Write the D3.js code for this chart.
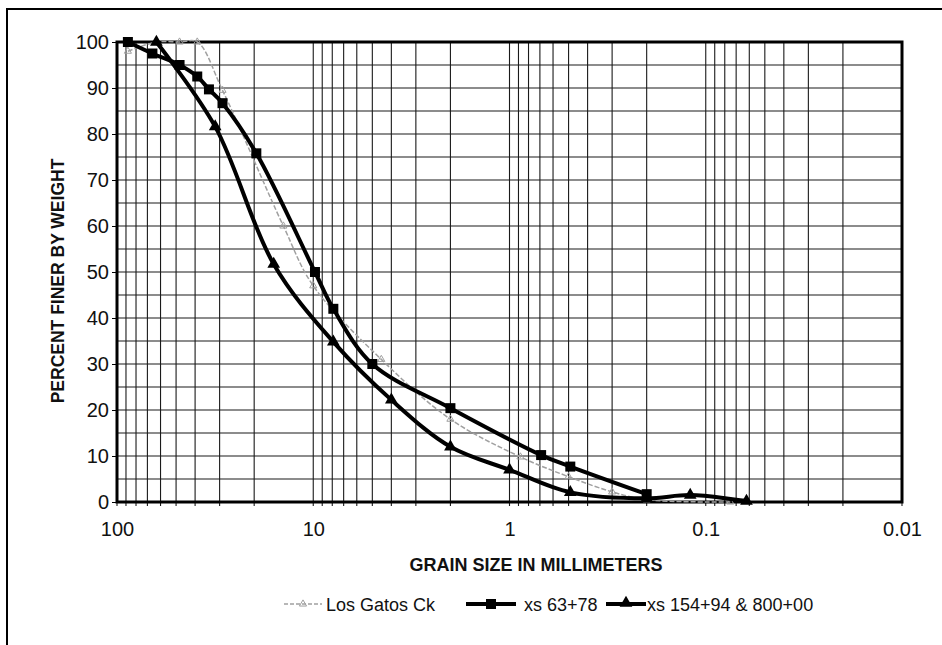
<!DOCTYPE html>
<html>
<head>
<meta charset="utf-8">
<script src="https://cdn.jsdelivr.net/npm/d3@7"></script>
<style>
  html, body { margin: 0; padding: 0; background: #fff; }
  svg text { font-family: "Liberation Sans", Arial, sans-serif; fill: #111; }
</style>
</head>
<body>
<svg id="chart" width="942" height="645"></svg>
<script>
// ---- data ----
const xTickValues = [100, 10, 1, 0.1, 0.01];
const xTickLabels = ["100", "10", "1", "0.1", "0.01"];
const yTickValues = [0, 10, 20, 30, 40, 50, 60, 70, 80, 90, 100];

const seriesNames = ["Los Gatos Ck", "xs 63+78", "xs 154+94 & 800+00"];

// Los Gatos Ck (grain size mm, percent finer)
const losGatosSize = [88, 63, 48, 39, 29, 14.2, 10, 4.5, 2.0, 0.88, 0.5, 0.3, 0.2, 0.075];
const losGatosPct  = [98, 100, 100, 100, 89.5, 60, 47, 31, 18, 9.8, 5.5, 2.2, 0.5, 0];

// xs 63+78 (squares)
const xs6378Size = [88, 66, 48, 39, 34, 29, 19.5, 9.8, 7.9, 5.0, 2.0, 0.69, 0.49, 0.2];
const xs6378Pct  = [100, 97.5, 95, 92.5, 89.7, 86.7, 75.8, 50, 42, 30, 20.4, 10.2, 7.7, 1.7];

// xs 154+94 & 800+00 (triangles)
const xs15494Size = [63, 31.6, 15.9, 7.9, 4.0, 2.0, 1.0, 0.49, 0.2, 0.12, 0.062];
const xs15494Pct  = [100, 81.6, 51.7, 34.8, 22.2, 12, 7, 2.1, 0.8, 1.5, 0.2];

// ---- layout ----
const svg = d3.select("#chart");
const pLeft = 117, pRight = 902, pTop = 42, pBottom = 502;
const FONT = '"Liberation Sans", Arial, sans-serif';

const x = d3.scaleLog().domain([100, 0.01]).range([pLeft, pRight]);
const y = d3.scaleLinear().domain([0, 100]).range([pBottom, pTop]);

// outer chart-area border (extends past the window right/bottom)
svg.append("path")
  .attr("d", "M7,650 L7,9 L950,9")
  .attr("fill", "none").attr("stroke", "#000").attr("stroke-width", 2);

// gridlines
const grid = svg.append("g");
const minorX = x.ticks();  // 1..9 multiples of each decade
grid.selectAll("line.vx").data(minorX).enter().append("line")
  .attr("x1", d => x(d)).attr("x2", d => x(d))
  .attr("y1", pTop).attr("y2", pBottom + 4)
  .attr("stroke", "#1a1a1a").attr("stroke-width", 1.1);
const yGrid = d3.range(0, 101, 5);
grid.selectAll("line.hy").data(yGrid).enter().append("line")
  .attr("x1", pLeft).attr("x2", pRight)
  .attr("y1", d => y(d)).attr("y2", d => y(d))
  .attr("stroke", "#1a1a1a").attr("stroke-width", 1.1);

// axes
const yAxis = d3.axisLeft(y).tickValues(yTickValues).tickSize(5).tickPadding(3);
const gy = svg.append("g").attr("transform", `translate(${pLeft},0)`).call(yAxis);
gy.select(".domain").remove();
gy.selectAll("text").attr("font-size", 20).style("font-family", FONT);
gy.selectAll("line").attr("stroke", "#000");

const xAxis = d3.axisBottom(x).tickValues(xTickValues)
  .tickFormat((d, i) => xTickLabels[i]).tickSize(0).tickPadding(20);
const gx = svg.append("g").attr("transform", `translate(0,${pBottom})`).call(xAxis);
gx.select(".domain").remove();
gx.selectAll("text").attr("font-size", 20).style("font-family", FONT);

// plot frame
svg.append("rect")
  .attr("x", pLeft).attr("y", pTop)
  .attr("width", pRight - pLeft).attr("height", pBottom - pTop)
  .attr("fill", "none").attr("stroke", "#000").attr("stroke-width", 3);

// titles
svg.append("text")
  .attr("x", 536).attr("y", 571)
  .attr("text-anchor", "middle")
  .attr("font-size", 18).attr("font-weight", "bold")
  .text("GRAIN SIZE IN MILLIMETERS");
svg.append("text")
  .attr("transform", `translate(64,281) rotate(-90)`)
  .attr("text-anchor", "middle")
  .attr("font-size", 17.5).attr("font-weight", "bold")
  .text("PERCENT FINER BY WEIGHT");

// series
const line = d3.line().x(d => x(d[0])).y(d => y(d[1])).curve(d3.curveCatmullRom.alpha(0.5));
const lg = d3.zip(losGatosSize, losGatosPct);
const sq = d3.zip(xs6378Size, xs6378Pct);
const tr = d3.zip(xs15494Size, xs15494Pct);

// Los Gatos (light gray, thin, dashed)
svg.append("path").datum(lg).attr("d", line)
  .attr("fill", "none").attr("stroke", "#a0a0a0").attr("stroke-width", 1.5)
  .attr("stroke-dasharray", "5,2");
svg.selectAll("path.lgm").data(lg).enter().append("path")
  .attr("transform", d => `translate(${x(d[0])},${y(d[1])})`)
  .attr("d", d3.symbol().type(d3.symbolTriangle).size(22)())
  .attr("fill", "none").attr("stroke", "#a0a0a0").attr("stroke-width", 1);

// triangles series
svg.append("path").datum(tr).attr("d", line)
  .attr("fill", "none").attr("stroke", "#000").attr("stroke-width", 4);
svg.selectAll("path.trm").data(tr).enter().append("path")
  .attr("transform", d => `translate(${x(d[0])},${y(d[1])})`)
  .attr("d", d3.symbol().type(d3.symbolTriangle).size(70)())
  .attr("fill", "#000");

// squares series
svg.append("path").datum(sq).attr("d", line)
  .attr("fill", "none").attr("stroke", "#000").attr("stroke-width", 4);
svg.selectAll("rect.sqm").data(sq).enter().append("rect")
  .attr("x", d => x(d[0]) - 5).attr("y", d => y(d[1]) - 5)
  .attr("width", 10).attr("height", 10).attr("fill", "#000");

// legend
const legY = 604;
const leg = svg.append("g");
const legItems = [
  { name: seriesNames[0], x0: 284, x1: 322, tx: 326, kind: "lg" },
  { name: seriesNames[1], x0: 466, x1: 516, tx: 524, kind: "sq" },
  { name: seriesNames[2], x0: 606, x1: 646, tx: 647, kind: "tr" }
];
legItems.forEach(it => {
  if (it.kind === "lg") {
    leg.append("line").attr("x1", it.x0).attr("x2", it.x1).attr("y1", legY).attr("y2", legY)
      .attr("stroke", "#a0a0a0").attr("stroke-width", 1.5).attr("stroke-dasharray", "4,2");
    leg.append("path").attr("transform", `translate(${(it.x0 + it.x1) / 2},${legY})`)
      .attr("d", d3.symbol().type(d3.symbolTriangle).size(22)())
      .attr("fill", "none").attr("stroke", "#a0a0a0");
  } else {
    leg.append("line").attr("x1", it.x0).attr("x2", it.x1).attr("y1", legY).attr("y2", legY)
      .attr("stroke", "#000").attr("stroke-width", 4);
    if (it.kind === "sq") {
      leg.append("rect").attr("x", (it.x0 + it.x1) / 2 - 5).attr("y", legY - 5)
        .attr("width", 10).attr("height", 10).attr("fill", "#000");
    } else {
      leg.append("path").attr("transform", `translate(${(it.x0 + it.x1) / 2},${legY - 1})`)
        .attr("d", d3.symbol().type(d3.symbolTriangle).size(70)()).attr("fill", "#000");
    }
  }
  leg.append("text").attr("x", it.tx).attr("y", legY + 6.5)
    .attr("font-size", 18).style("font-family", FONT).text(it.name);
});
</script>
</body>
</html>
